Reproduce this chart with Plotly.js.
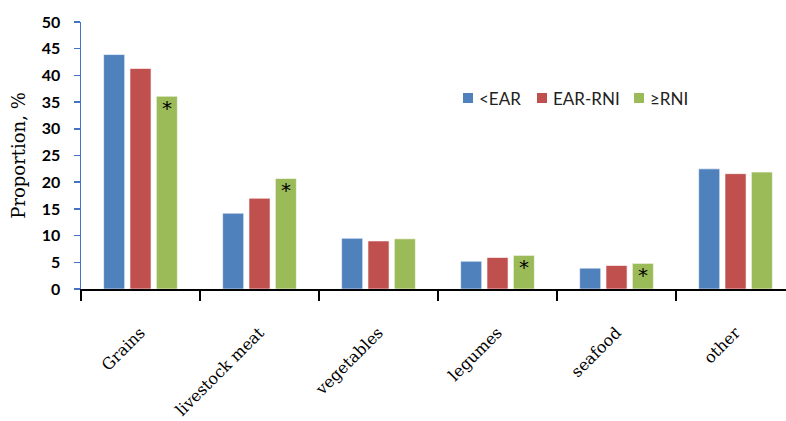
<!DOCTYPE html>
<html>
<head>
<meta charset="utf-8">
<script src="https://cdn.plot.ly/plotly-3.0.1.min.js"></script>
<style>html,body{margin:0;padding:0;background:#fff}#chart{width:786px;height:421px}</style>
</head>
<body>
<div id="chart"></div>
<script>
const categories = ["Grains", "livestock meat", "vegetables", "legumes", "seafood", "other"];
const seriesNames = ["<EAR", "EAR-RNI", "≥RNI"];
const belowEAR = [43.9, 14.2, 9.5, 5.2, 3.9, 22.5];
const earToRNI = [41.3, 17.0, 9.0, 5.9, 4.4, 21.6];
const atLeastRNI = [36.1, 20.7, 9.4, 6.3, 4.8, 21.9];
const significant = [true, true, false, true, true, false];
const colors = ["#4F81BD", "#C0504D", "#9BBB59"];

const seriesValues = [belowEAR, earToRNI, atLeastRNI];
const traces = seriesValues.map((vals, i) => ({
  type: "bar",
  name: seriesNames[i],
  x: categories,
  y: vals,
  marker: {color: colors[i], line: {color: "rgba(255,255,255,0.6)", width: 1}},
  hoverinfo: "none",
  showlegend: false
}));

const annotations = [];
categories.forEach((c, i) => {
  if (significant[i]) {
    annotations.push({
      x: c, y: atLeastRNI[i], xref: "x", yref: "y",
      text: "*", showarrow: false, xanchor: "center", yanchor: "top",
      xshift: 26, yshift: 2,
      font: {family: "DejaVu Sans", size: 20, color: "#000"}
    });
  }
});

// custom legend (paper coordinates within plot area: x from 81..786, y from 289..22)
const W = 705, H = 267, L = 81, B = 289;
const px = x => (x - L) / W;
const py = y => (B - y) / H;
const legendSquareX = [463, 537, 634];
const shapes = [];
seriesNames.forEach((n, i) => {
  const x0 = legendSquareX[i];
  shapes.push({type: "rect", xref: "paper", yref: "paper",
    x0: px(x0), x1: px(x0 + 10), y0: py(103), y1: py(93),
    fillcolor: colors[i], line: {width: 0}});
  annotations.push({xref: "paper", yref: "paper", x: px(x0 + 14), y: py(98),
    xanchor: "left", yanchor: "middle", showarrow: false, text: n.replace("<", "&lt;"),
    font: {family: "Lato, sans-serif", size: 17, color: "#222"}});
});

const layout = {
  width: 786, height: 421,
  margin: {l: 81, r: 0, t: 22, b: 132},
  paper_bgcolor: "#fff", plot_bgcolor: "#fff",
  barmode: "group", bargap: 0.336, bargroupgap: 0.2,
  showlegend: false,
  xaxis: {
    type: "category",
    range: [-0.5, 5.424],
    showline: true, linecolor: "#000", linewidth: 2,
    ticks: "outside", tickson: "boundaries", ticklen: 10, tickcolor: "#000", tickwidth: 1.5,
    tickangle: -45, ticklabelstandoff: 26,
    tickfont: {family: "DejaVu Serif, serif", size: 16, color: "#000"},
    showgrid: false, zeroline: false, fixedrange: true
  },
  yaxis: {
    range: [0, 50], dtick: 5, tick0: 0,
    showline: true, linecolor: "#4472C4", linewidth: 1.5,
    ticks: "outside", ticklen: 6, tickcolor: "#4472C4", tickwidth: 1.5,
    ticklabelstandoff: 10,
    tickfont: {family: "Lato, sans-serif", size: 16, color: "#000", weight: "bold"},
    showgrid: false, zeroline: false,
    title: {text: "Proportion, %", standoff: 11, font: {family: "DejaVu Serif, serif", size: 18, color: "#000"}}
  },
  shapes: shapes,
  annotations: annotations
};

Plotly.newPlot("chart", traces, layout, {displayModeBar: false, staticPlot: true});
</script>
</body>
</html>
